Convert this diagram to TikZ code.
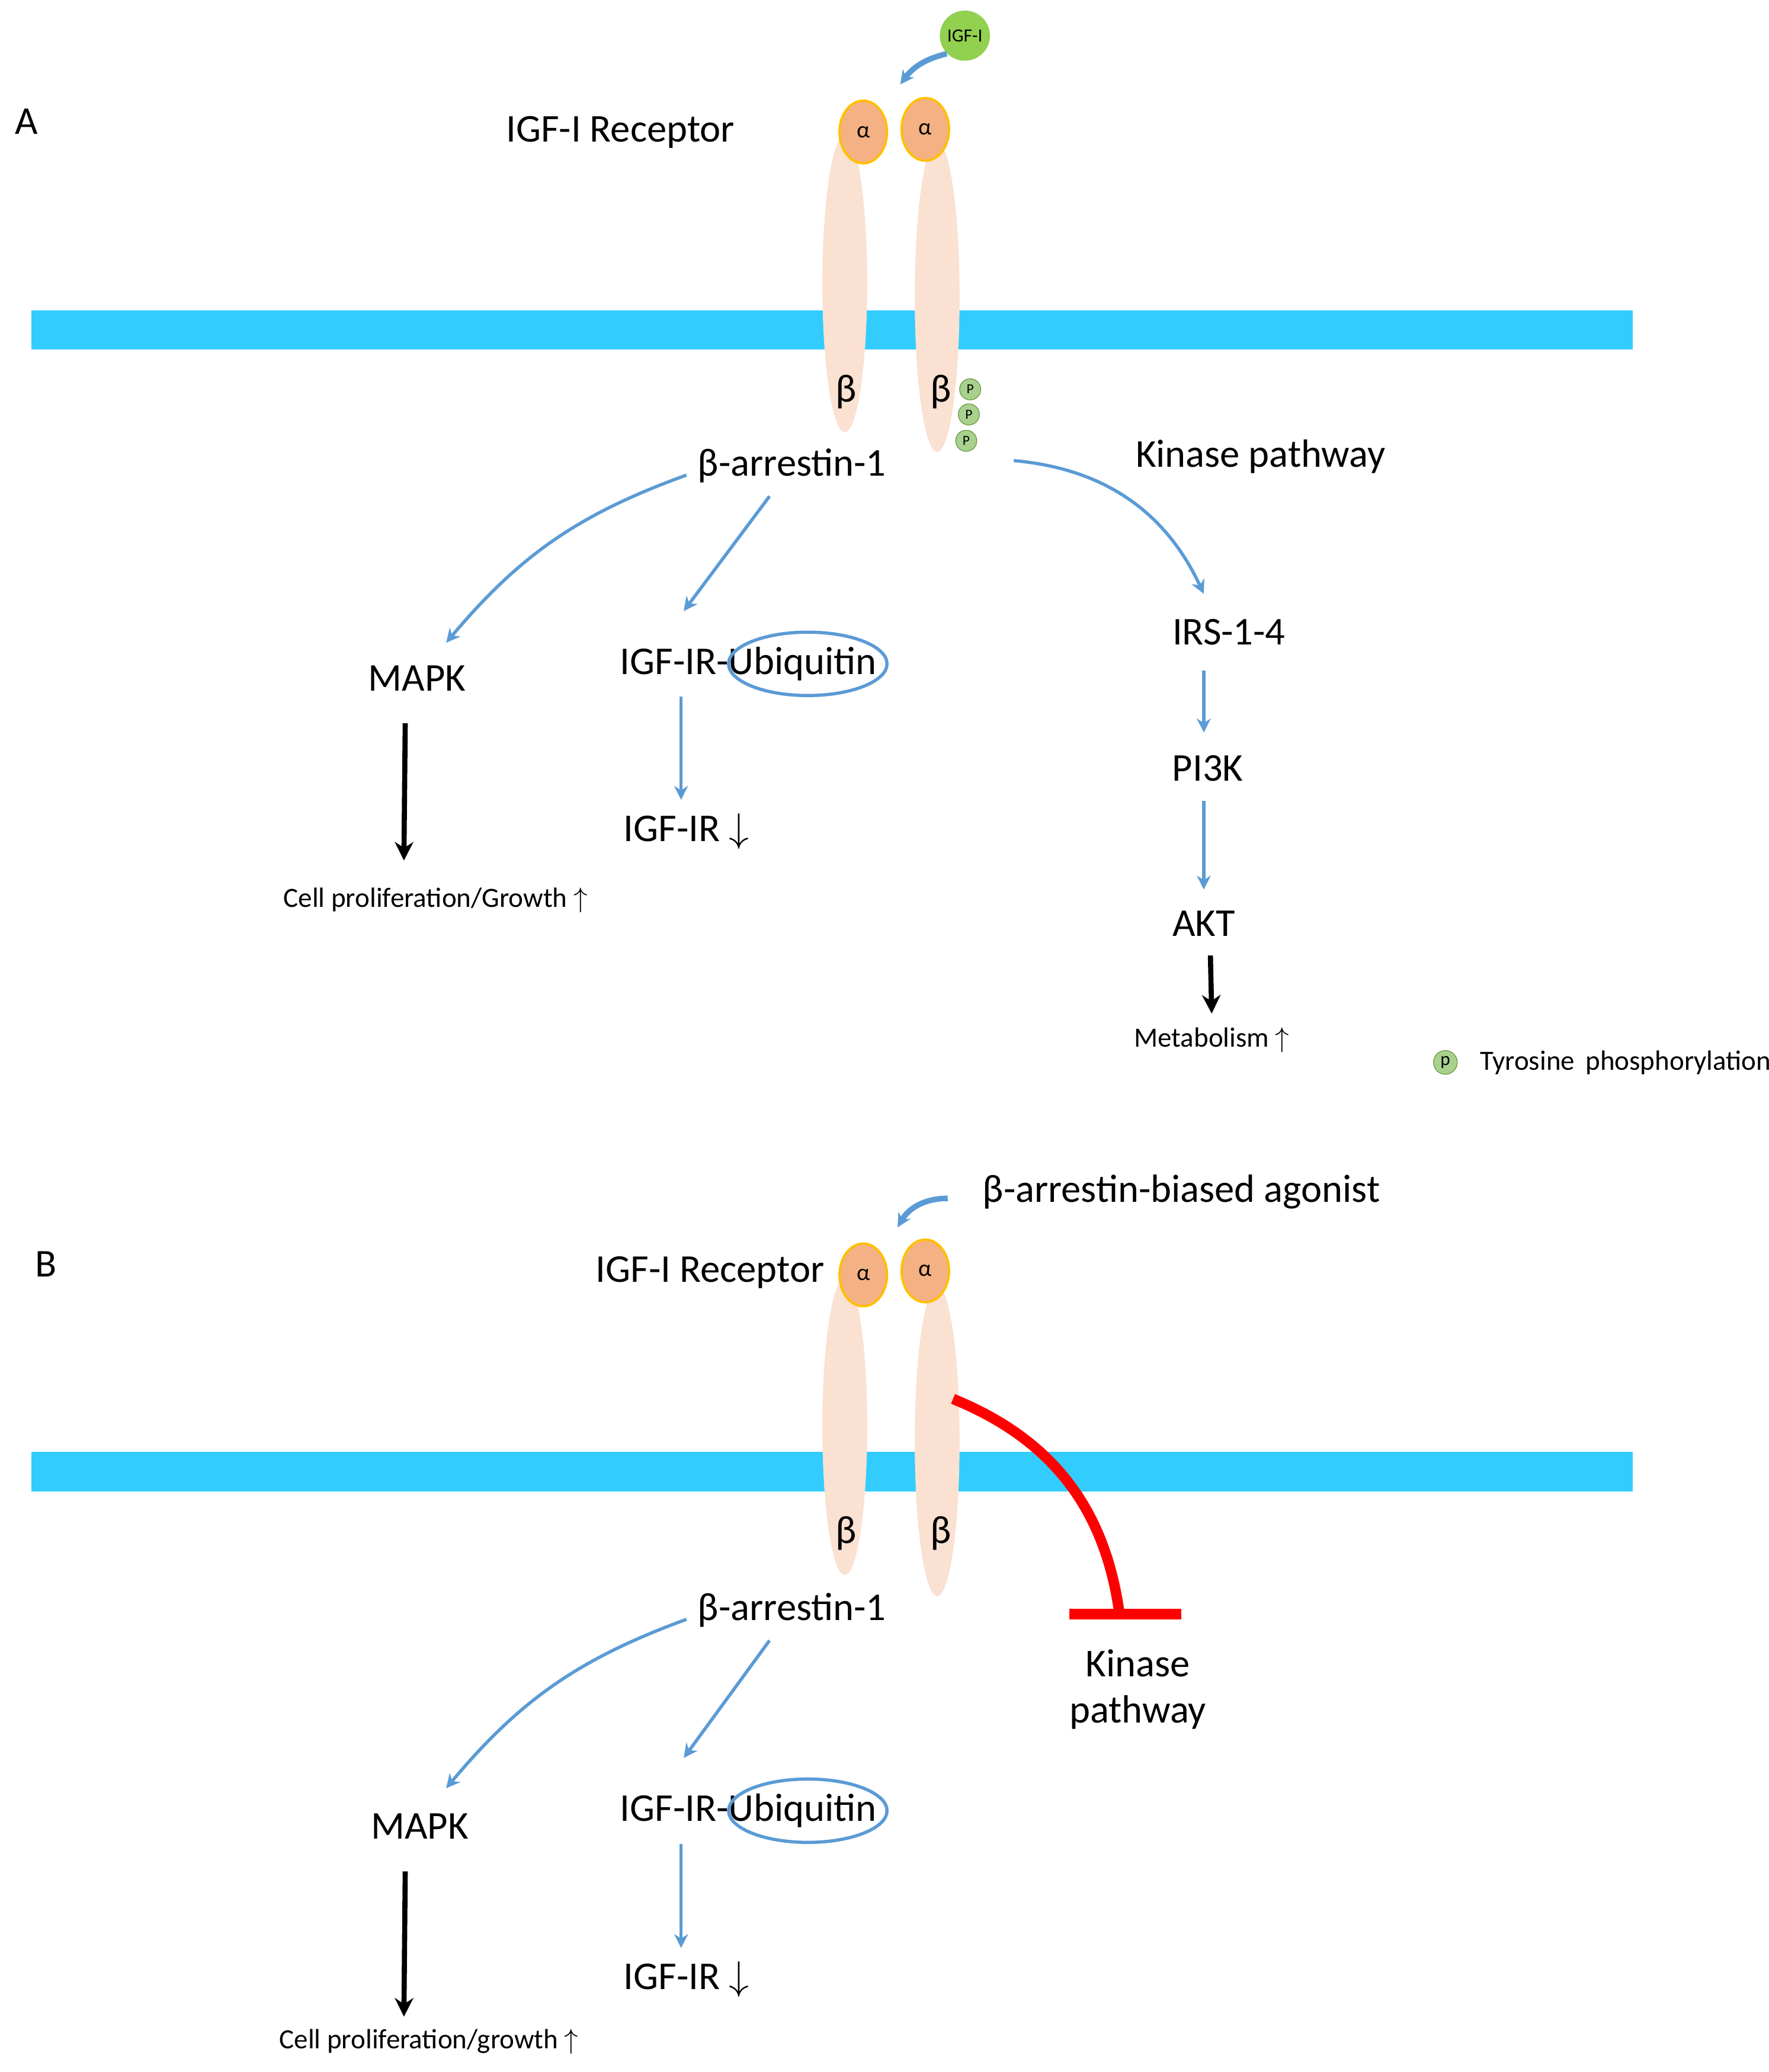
\documentclass[tikz,border=0pt]{standalone}
\usepackage{fontspec}
\setmainfont{Carlito}
\usetikzlibrary{arrows.meta}
\usetikzlibrary{positioning}
\usetikzlibrary{shapes.geometric}
\definecolor{membrane}{RGB}{51,204,255}
\definecolor{flow}{RGB}{91,155,213}
\definecolor{chain}{RGB}{250,225,210}
\definecolor{alphafill}{RGB}{244,177,131}
\definecolor{alphaline}{RGB}{255,192,0}
\definecolor{ligand}{RGB}{146,208,80}
\definecolor{phos}{RGB}{169,209,142}
\tikzset{
  % plain labels
  label text/.style = {
    font = \fontsize{17}{20}\selectfont,
    inner sep = 1pt
  },
  small text/.style = {
    font = \fontsize{12}{14}\selectfont,
    inner sep = 1pt
  },
  % receptor parts
  chain/.style = {
    ellipse, fill = chain, draw = none
  },
  alpha sub/.style = {
    ellipse, fill = alphafill, draw = alphaline, line width = 1pt,
    minimum width = 0.72cm, minimum height = 0.95cm, inner sep = 0,
    font = \fontsize{10}{12}\selectfont
  },
  phospho/.style = {
    circle, fill = phos, draw = ligand!70!black, line width = .3pt,
    minimum size = 0.32cm, inner sep = 0, font = \fontsize{6}{7}\selectfont
  },
  % connectors
  flow/.style = {
    draw = flow, line width = 1.4pt, -{Stealth[length=6pt,width=6pt]}
  },
  heavy/.style = {
    draw = black, line width = 2.2pt, -{Stealth[length=8pt,width=8pt]}
  }
}
\begin{document}
\begin{tikzpicture}[x=0.02cm, y=-0.02cm]
  \useasboundingbox (0,0) rectangle (1340,1570);

  %% panel A
  \node[label text] (tagA) at (20,92) {A};
  \fill[membrane] (24,235) rectangle (1237,265);
  \node[chain, minimum width=0.68cm, minimum height=4.5cm] (chainAL) at (640,215) {};
  \node[chain, minimum width=0.68cm, minimum height=4.7cm] (chainAR) at (710,225) {};
  \node[alpha sub] (alphaAL) at (654,100) {α};
  \node[alpha sub] (alphaAR) at (701,98) {α};
  \node[circle, fill=ligand, minimum size=0.76cm, inner sep=0,
        font=\fontsize{8}{9}\selectfont] (igf) at (731,27) {IGF-I};
  \node[label text] (recA) at (470,100) {IGF-I Receptor};
  \node[label text] (betaAL) at (641,297) {β};
  \node[label text] (betaAR) at (713,297) {β};
  \node[phospho] (p1) at (735,295) {P};
  \node[phospho] (p2) at (734,314) {P};
  \node[phospho] (p3) at (732,334) {P};
  \node[label text] (arrA) at (600,353) {β-arrestin-1};
  \node[label text] (kinA) at (955,346) {Kinase pathway};
  \node[label text] (mapkA) at (316,514) {MAPK};
  \node[label text] (ubiA) at (567,503) {IGF-IR-Ubiquitin};
  \draw[flow, -] (612,503) ellipse (60 and 24);
  \node[label text] (downA) at (520,630) {IGF-IR $\downarrow$};
  \node[small text] (growA) at (330,682) {Cell proliferation/Growth $\uparrow$};
  \node[label text] (irs) at (931,479) {IRS-1-4};
  \node[label text] (pik) at (915,582) {PI3K};
  \node[label text] (akt) at (912,700) {AKT};
  \node[small text] (meta) at (918,788) {Metabolism $\uparrow$};
  \node[phospho, minimum size=0.36cm, font=\fontsize{8}{9}\selectfont] (pkey) at (1095,805) {p};
  \node[small text, right=0.3cm of pkey] (pkeytext) {Tyrosine\, phosphorylation};

  \draw[flow, line width=2.4pt] (igf.south west) to[bend right=20] (682,64);
  \draw[flow] (520,360) to[bend right=15] (338,487);
  \draw[flow] (583,376) -- (518,463);
  \draw[flow] (768,349) to[bend left=30] (912,450);
  \draw[heavy] (307,548) -- (306,652);
  \draw[flow] (516,528) -- (516,606);
  \draw[flow] (912,508) -- (912,555);
  \draw[flow] (912,607) -- (912,674);
  \draw[heavy] (917,724) -- (918,768);

  %% panel B
  \node[label text] (tagB) at (35,958) {B};
  \fill[membrane] (24,1100) rectangle (1237,1130);
  \node[chain, minimum width=0.68cm, minimum height=4.5cm] (chainBL) at (640,1081) {};
  \node[chain, minimum width=0.68cm, minimum height=4.7cm] (chainBR) at (710,1092) {};
  \node[alpha sub] (alphaBL) at (654,966) {α};
  \node[alpha sub] (alphaBR) at (701,963) {α};
  \node[label text] (agonist) at (895,903) {β-arrestin-biased agonist};
  \node[label text] (recB) at (538,964) {IGF-I Receptor};
  \node[label text] (betaBL) at (641,1162) {β};
  \node[label text] (betaBR) at (713,1162) {β};
  \node[label text, align=center] (kinB) at (862,1280) {Kinase\\pathway};
  \node[label text] (arrB) at (600,1220) {β-arrestin-1};
  \node[label text] (mapkB) at (318,1384) {MAPK};
  \node[label text] (ubiB) at (567,1372) {IGF-IR-Ubiquitin};
  \draw[flow, -] (612,1372) ellipse (60 and 24);
  \node[label text] (downB) at (520,1500) {IGF-IR $\downarrow$};
  \node[small text] (growB) at (325,1547) {Cell proliferation/growth $\uparrow$};

  \draw[flow, line width=2.4pt] (718,908) to[bend right=30] (680,930);
  \draw[red, line width=4.5pt] (722,1060) to[bend left=30] (848,1222);
  \draw[red, line width=4.5pt] (810,1223) -- (895,1223);
  \draw[flow] (520,1227) to[bend right=15] (338,1355);
  \draw[flow] (583,1243) -- (518,1332);
  \draw[heavy] (307,1418) -- (306,1528);
  \draw[flow] (516,1397) -- (516,1476);
\end{tikzpicture}
\end{document}
